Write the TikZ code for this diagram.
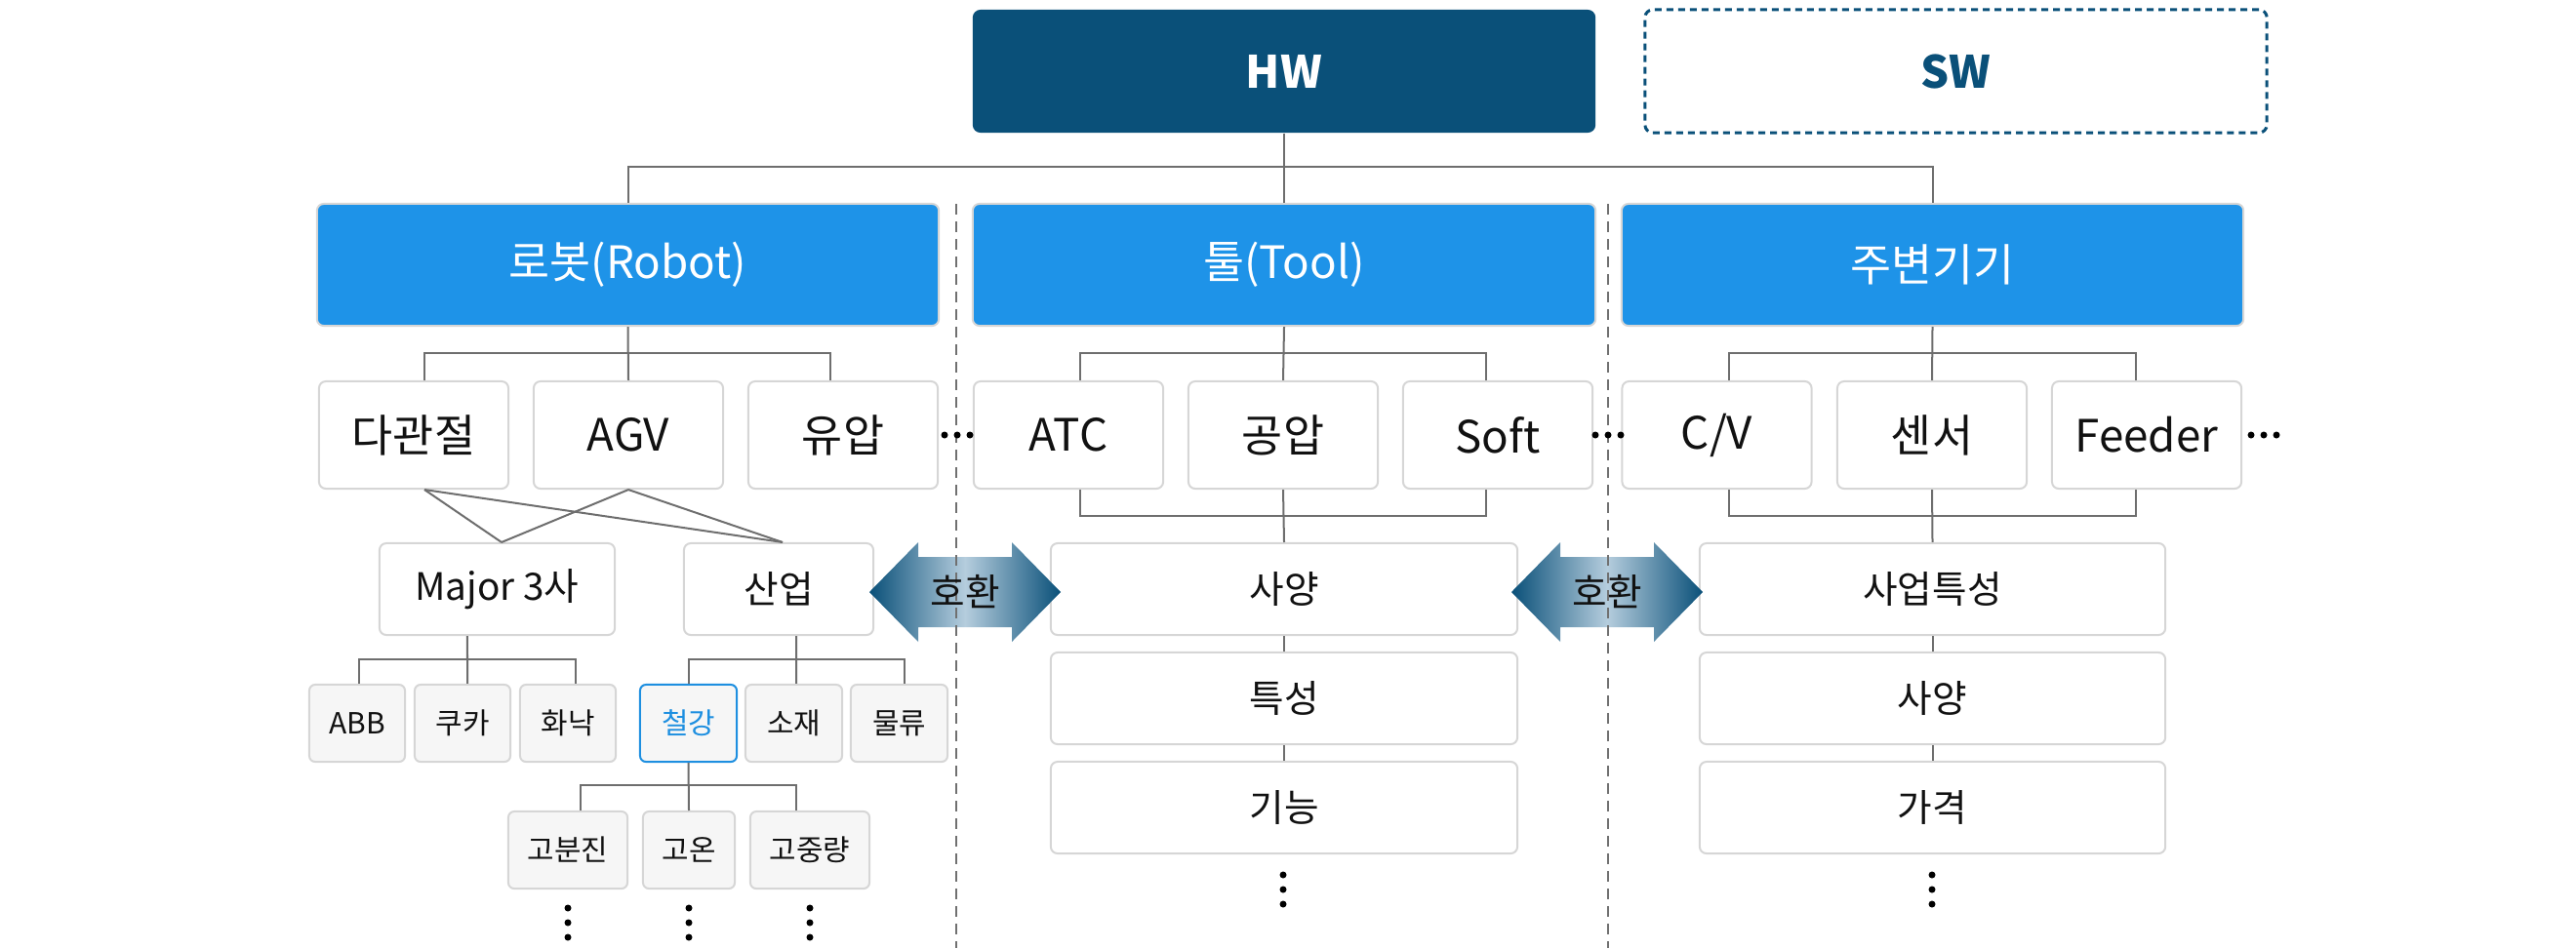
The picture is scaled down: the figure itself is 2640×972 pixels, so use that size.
\documentclass[tikz,border=0pt]{standalone}
\usepackage{fontspec}
\setmainfont{Noto Sans CJK KR}
\usetikzlibrary{calc}
\definecolor{hwblue}{HTML}{0A5079}
\definecolor{lvblue}{HTML}{1E93E8}
\definecolor{bord}{HTML}{D6D6D6}
\definecolor{conncol}{HTML}{6E6E6E}
\definecolor{sepcol}{HTML}{707070}
\definecolor{smallfill}{HTML}{F6F6F6}
\definecolor{steelblue}{HTML}{1E8FE0}
\definecolor{arrlight}{HTML}{B5CDDD}
\definecolor{txt}{HTML}{111111}
\newcommand\fA{\fontsize{13pt}{15pt}\selectfont}
\newcommand\fB{\fontsize{11pt}{13pt}\selectfont}
\newcommand\fC{\fontsize{8.5pt}{10pt}\selectfont}
\tikzset{
  conn/.style={draw=conncol, line width=0.02cm},
  sepline/.style={draw=sepcol, line width=0.018cm, dash pattern=on 0.11cm off 0.07cm},
  sz/.style 2 args={minimum width=#1cm, minimum height=#2cm, inner sep=0pt},
  hwbox/.style={fill=hwblue, rounded corners=0.08cm, text=white, font=\fA\bfseries},
  swbox/.style={draw=hwblue, fill=white, line width=0.03cm, dash pattern=on 0.07cm off 0.05cm, rounded corners=0.08cm, text=hwblue, font=\fA\bfseries},
  catbox/.style={fill=lvblue, draw=bord, line width=0.02cm, rounded corners=0.07cm, text=white, font=\fA},
  itembox/.style={fill=white, draw=bord, line width=0.02cm, rounded corners=0.07cm, text=txt, font=\fA},
  subbox/.style={fill=white, draw=bord, line width=0.02cm, rounded corners=0.07cm, text=txt, font=\fB},
  smallbox/.style={fill=smallfill, draw=bord, line width=0.02cm, rounded corners=0.06cm, text=txt, font=\fC},
  swapbox/.style={left color=hwblue, right color=hwblue, middle color=arrlight, draw=none},
  swaptext/.style={text=txt, font=\fB, inner sep=0pt},
}
\begin{document}
\begin{tikzpicture}[x=0.01cm, y=-0.01cm]
\useasboundingbox (0,0) rectangle (2640,972);
% top level
\node[hwbox, sz={6.38}{1.26}] (hw) at (1316,73) {HW};
\node[swbox, sz={6.37}{1.26}] (sw) at (2004.5,73) {SW};
% categories
\node[catbox, sz={6.37}{1.25}] (robot) at (643.5,271.5) {로봇(Robot)};
\node[catbox, sz={6.38}{1.25}] (tool) at (1316,271.5) {툴(Tool)};
\node[catbox, sz={6.37}{1.25}] (peri) at (1980.5,271.5) {주변기기};
% level 1 items
\node[itembox, sz={1.94}{1.10}] (dj) at (424,446) {다관절};
\node[itembox, sz={1.94}{1.10}] (agv) at (644,446) {AGV};
\node[itembox, sz={1.94}{1.10}] (yu) at (864,446) {유압};
\node[itembox, sz={1.94}{1.10}] (atc) at (1095,446) {ATC};
\node[itembox, sz={1.94}{1.10}] (gy) at (1315,446) {공압};
\node[itembox, sz={1.94}{1.10}] (soft) at (1535,446) {Soft};
\node[itembox, sz={1.94}{1.10}] (cv) at (1759.5,446) {C/V};
\node[itembox, sz={1.94}{1.10}] (sensor) at (1980,446) {센서};
\node[itembox, sz={1.94}{1.10}] (feeder) at (2200,446) {Feeder};
% level 2
\node[subbox, sz={2.41}{0.94}] (major) at (509.5,604) {Major 3사};
\node[subbox, sz={1.94}{0.94}] (sanup) at (798,604) {산업};
\node[subbox, sz={4.78}{0.94}] (tspec) at (1316,604) {사양};
\node[subbox, sz={4.78}{0.94}] (tchar) at (1316,716) {특성};
\node[subbox, sz={4.78}{0.94}] (tfunc) at (1316,828) {기능};
\node[subbox, sz={4.77}{0.94}] (pbiz) at (1980.5,604) {사업특성};
\node[subbox, sz={4.77}{0.94}] (pspec) at (1980.5,716) {사양};
\node[subbox, sz={4.77}{0.94}] (pprice) at (1980.5,828) {가격};
% small items
\node[smallbox, sz={0.98}{0.79}] (abb) at (366,741.5) {ABB};
\node[smallbox, sz={0.98}{0.79}] (kuka) at (474,741.5) {쿠카};
\node[smallbox, sz={0.98}{0.79}] (fanuc) at (582,741.5) {화낙};
\node[smallbox, sz={0.99}{0.79}, draw=steelblue, text=steelblue] (steel) at (705.5,741.5) {철강};
\node[smallbox, sz={0.99}{0.79}] (sojae) at (813.5,741.5) {소재};
\node[smallbox, sz={0.99}{0.79}] (mulryu) at (921.5,741.5) {물류};
\node[smallbox, sz={1.22}{0.79}] (gbj) at (582,871.5) {고분진};
\node[smallbox, sz={0.94}{0.79}] (gon) at (706,871.5) {고온};
\node[smallbox, sz={1.22}{0.79}] (gjr) at (830,871.5) {고중량};
% connectors: top
\draw[conn] (hw.south) -- (tool.north);
\draw[conn] (robot.north) -- ++(0,-37) -| (peri.north);
% robot bracket
\draw[conn] (robot.south) -- (agv.north);
\draw[conn] ([xshift=0.11cm]dj.north) -- ++(0,-28) -| ([xshift=-0.13cm]yu.north);
% tool brackets
\draw[conn] (tool.south) -- (gy.north);
\draw[conn] ([xshift=0.12cm]atc.north) -- ++(0,-28) -| ([xshift=-0.12cm]soft.north);
\draw[conn] (gy.south) -- (tspec.north);
\draw[conn] ([xshift=0.12cm]atc.south) -- ++(0,27) -| ([xshift=-0.12cm]soft.south);
% periph brackets
\draw[conn] (peri.south) -- (sensor.north);
\draw[conn] ([xshift=0.125cm]cv.north) -- ++(0,-28) -| ([xshift=-0.11cm]feeder.north);
\draw[conn] (sensor.south) -- (pbiz.north);
\draw[conn] ([xshift=0.125cm]cv.south) -- ++(0,27) -| ([xshift=-0.11cm]feeder.south);
% chains
\draw[conn] (tspec.south) -- (tchar.north);
\draw[conn] (tchar.south) -- (tfunc.north);
\draw[conn] (pbiz.south) -- (pspec.north);
\draw[conn] (pspec.south) -- (pprice.north);
% crossing lines
\draw[conn] ([xshift=0.11cm]dj.south) -- ([xshift=0.045cm]major.north);
\draw[conn] ([xshift=0.11cm]dj.south) -- ([xshift=0.04cm]sanup.north);
\draw[conn] (agv.south) -- ([xshift=0.045cm]major.north);
\draw[conn] (agv.south) -- ([xshift=0.04cm]sanup.north);
% major bracket
\draw[conn] ([xshift=-0.305cm]major.south) -- ([xshift=0.05cm]kuka.north);
\draw[conn] ([xshift=0.02cm]abb.north) -- ++(0,-25) -| ([xshift=0.08cm]fanuc.north);
% sanup bracket
\draw[conn] ([xshift=0.18cm]sanup.south) -- ([xshift=0.025cm]sojae.north);
\draw[conn] (steel.north) -- ++(0,-25) -| ([xshift=0.055cm]mulryu.north);
% steel bracket
\draw[conn] (steel.south) -- (gon.north);
\draw[conn] ([xshift=0.13cm]gbj.north) -- ++(0,-26) -| ([xshift=-0.14cm]gjr.north);
% swap arrows
\path[swapbox] (891,607) -- (941,556) -- (941,571) -- (1037,571) -- (1037,556) -- (1087,607) -- (1037,658) -- (1037,643) -- (941,643) -- (941,658) -- cycle;
\path[swapbox] (1549,607) -- (1599,556) -- (1599,571) -- (1695,571) -- (1695,556) -- (1745,607) -- (1695,658) -- (1695,643) -- (1599,643) -- (1599,658) -- cycle;
% separators
\coordinate (s1t) at (980,209);
\coordinate (s1b) at (980,972);
\coordinate (s2t) at (1648,209);
\coordinate (s2b) at (1648,972);
\draw[sepline] (s1t) -- (s1b);
\draw[sepline] (s2t) -- (s2b);
\node[swaptext] (sw1) at (989,607) {호환};
\node[swaptext] (sw2) at (1647,607) {호환};
% dots
\foreach \x in {968,981,994,1635,1648,1661,2307,2320,2333}
  \fill[black] (\x,446) circle (0.035cm);
\foreach \x in {582,706,830}
  \foreach \y in {931,946,961}
    \fill[black] (\x,\y) circle (0.035cm);
\foreach \x in {1315,1980}
  \foreach \y in {897,912,927}
    \fill[black] (\x,\y) circle (0.035cm);
\end{tikzpicture}
\end{document}
